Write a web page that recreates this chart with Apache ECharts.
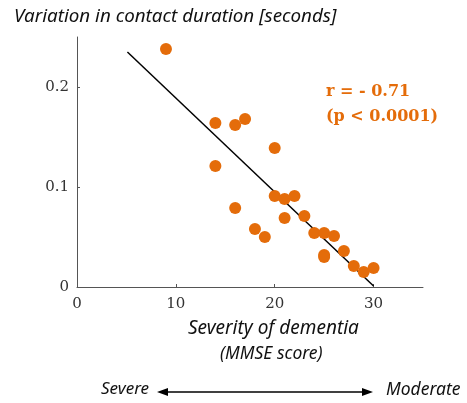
<!DOCTYPE html>
<html>
<head>
<meta charset="utf-8">
<script src="https://cdn.jsdelivr.net/npm/echarts@6/dist/echarts.min.js"></script>
<style>
  html, body { margin: 0; padding: 0; background: #fff; }
  #chart { width: 467px; height: 403px; }
</style>
</head>
<body>
<div id="chart"></div>
<script>
// MMSE score vs variation in contact duration
const mmse = [9, 14, 16, 17, 20, 14, 20, 21, 22, 16, 23, 21, 18, 19, 24, 25, 26, 27, 25, 25, 28, 29, 30];
const variation = [0.238, 0.164, 0.162, 0.168, 0.139, 0.121, 0.091, 0.088, 0.091, 0.079, 0.071, 0.069, 0.058, 0.050, 0.054, 0.054, 0.051, 0.036, 0.032, 0.030, 0.021, 0.015, 0.019];
// fitted line end points
const fitX = [5.1, 30];
const fitY = [0.235, 0.001];
const xTicks = [0, 10, 20, 30];
const yTicks = [0, 0.1, 0.2];

const orange = '#E46C0A';
const chart = echarts.init(document.getElementById('chart'));

const option = {
  animation: false,
  grid: { left: 77, top: 37, width: 346, height: 250 },
  xAxis: {
    type: 'value',
    min: 0, max: 35, interval: 10,
    axisLine: { lineStyle: { color: '#555', width: 1 } },
    axisTick: { show: true, inside: true, length: 3, lineStyle: { color: '#555' } },
    axisLabel: {
      showMaxLabel: false, margin: 10,
      fontFamily: 'DejaVu Serif', fontSize: 15, color: '#333',
      formatter: v => xTicks.includes(v) ? String(v) : ''
    },
    splitLine: { show: false }
  },
  yAxis: {
    type: 'value',
    min: 0, max: 0.25, interval: 0.1,
    axisLine: { show: true, lineStyle: { color: '#555', width: 1 } },
    axisTick: { show: true, inside: true, length: 3, lineStyle: { color: '#555' } },
    axisLabel: {
      showMaxLabel: false, margin: 8,
      fontFamily: 'DejaVu Serif', fontSize: 15, color: '#333',
      formatter: v => {
        const t = yTicks.find(k => Math.abs(k - v) < 1e-9);
        return t === undefined ? '' : String(t);
      }
    },
    splitLine: { show: false }
  },
  series: [
    {
      type: 'line',
      data: fitX.map((x, i) => [x, fitY[i]]),
      symbol: 'none',
      lineStyle: { color: '#000', width: 1.5 },
      z: 1
    },
    {
      type: 'scatter',
      data: mmse.map((x, i) => [x, variation[i]]),
      symbolSize: 12,
      itemStyle: { color: orange, opacity: 1 },
      z: 2
    }
  ],
  graphic: [
    { type: 'text', left: 14, top: 7,
      style: { text: 'Variation in contact duration [seconds]', font: 'italic 18.8px "Noto Sans"', fill: '#111' } },
    { type: 'text', left: 326, top: 79,
      style: { text: 'r = - 0.71\n(p < 0.0001)', font: 'bold 16px "DejaVu Serif"', fill: orange, lineHeight: 25 } },
    { type: 'text', left: 188, top: 319,
      style: { text: 'Severity of dementia', font: 'italic 19px "Noto Sans"', fill: '#111' } },
    { type: 'text', left: 220, top: 345,
      style: { text: '(MMSE score)', font: 'italic 17.5px "Noto Sans"', fill: '#111' } },
    { type: 'text', left: 101, top: 381,
      style: { text: 'Severe', font: 'italic 17px "Noto Sans"', fill: '#111' } },
    { type: 'text', left: 386, top: 381,
      style: { text: 'Moderate', font: 'italic 17.5px "Noto Sans"', fill: '#111' } },
    { type: 'line', shape: { x1: 162, y1: 392, x2: 368, y2: 392 }, style: { stroke: '#000', lineWidth: 1.5 } },
    { type: 'polygon', shape: { points: [[157, 392], [168, 388], [168, 396]] }, style: { fill: '#000' } },
    { type: 'polygon', shape: { points: [[373, 392], [362, 388], [362, 396]] }, style: { fill: '#000' } }
  ]
};
chart.setOption(option);
</script>
</body>
</html>
